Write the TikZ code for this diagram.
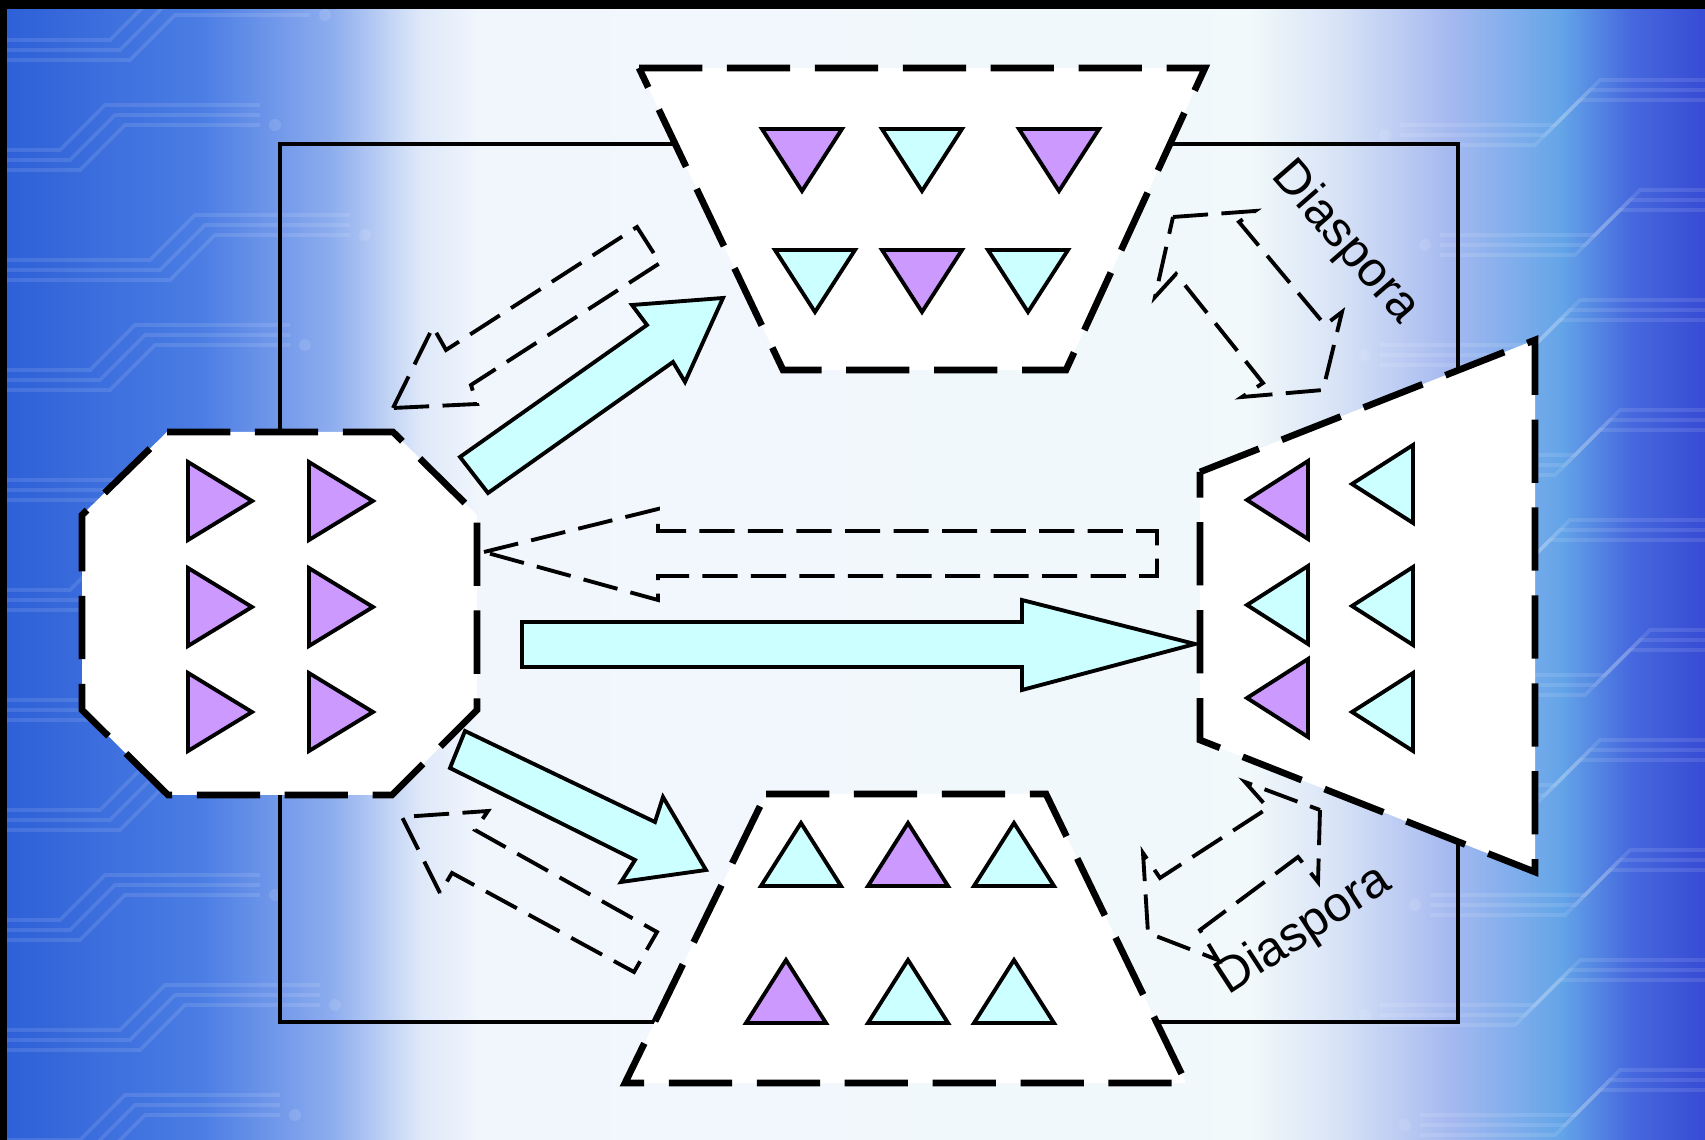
\documentclass[tikz,border=0pt]{standalone}
\usepackage{fontspec}
\newfontfamily\diafont{Liberation Sans}
\definecolor{lilac}{RGB}{204,153,255}
\definecolor{icecyan}{RGB}{204,255,255}
\pgfdeclarehorizontalshading{circuitback}{100bp}{rgb(0bp)=(0.176,0.373,0.843); rgb(25bp)=(0.176,0.373,0.843);
 rgb(30.87bp)=(0.294,0.490,0.894); rgb(34.68bp)=(0.549,0.675,0.933); rgb(37.32bp)=(0.871,0.910,0.976);
 rgb(39.08bp)=(0.945,0.965,0.990); rgb(61.66bp)=(0.945,0.975,0.982); rgb(64.30bp)=(0.843,0.886,0.965);
 rgb(67.52bp)=(0.647,0.725,0.941); rgb(70.75bp)=(0.392,0.647,0.910); rgb(72.80bp)=(0.275,0.412,0.871);
 rgb(75bp)=(0.216,0.294,0.831); rgb(100bp)=(0.216,0.294,0.831)}
\tikzset{
  realm/.style={fill=white,draw=black,line width=1.9pt,dash pattern=on 18pt off 7pt},
  flow/.style={fill=icecyan,draw=black,line width=1.1pt},
  backflow/.style={draw=black,line width=1.1pt,dash pattern=on 10pt off 3.8pt},
  tri/.style={draw=black,line width=1.1pt},
  trace/.style={draw=white,opacity=0.11,line width=1.1pt},
  dialabel/.style={font={\diafont\fontsize{14}{16}\selectfont},inner sep=0pt}
}
\def\topcup{(639,68) -- (1205,68) -- (1066,370) -- (783,370) -- cycle}
\def\lowcup{(766,794) -- (1046,794) -- (1186,1083) -- (625,1083) -- cycle}
\def\octo{(167,432) -- (393,432) -- (477,515) -- (477,710) -- (392,795) -- (168,795) -- (82,710) -- (82,515) -- cycle}
\def\horn{(1200,472) -- (1535,340) -- (1535,872) -- (1200,740) -- cycle}
\newcommand{\tridown}[3]{\filldraw[tri,fill=#3] ({#1-40},#2) -- ({#1+40},#2) -- (#1,{#2+62}) -- cycle;}
\newcommand{\triup}[3]{\filldraw[tri,fill=#3] (#1,#2) -- ({#1+40},{#2+63}) -- ({#1-40},{#2+63}) -- cycle;}
\newcommand{\triright}[3]{\filldraw[tri,fill=#3] (#1,{#2-39}) -- ({#1+64},#2) -- (#1,{#2+39}) -- cycle;}
\newcommand{\trileft}[3]{\filldraw[tri,fill=#3] (#1,#2) -- ({#1+61},{#2-39}) -- ({#1+61},{#2+39}) -- cycle;}
\begin{document}
\begin{tikzpicture}[x=0.01cm,y=-0.01cm]
	\useasboundingbox (0,0) rectangle (1705,1140);
	\shade[shading=circuitback] (0,0) rectangle (1705,1140);
	
	%circuit traces on both sides
	\scope
	\clip (0,0) rectangle (390,1140);
	\foreach \ty/\bx in {40/110,150/60,260/150,370/90,480/130,590/70,700/140,810/100,920/60,1030/120,1140/80}{
		\foreach \k in {0,10,20}{
			\draw[trace] (0,\ty+\k) -- (\bx+\k,\ty+\k) -- (\bx+\k+45,\ty+\k-45) -- (\bx+200,\ty+\k-45);
		}
		\fill[white,opacity=0.11] (\bx+215,\ty-25) circle (6);
	}
	\endscope
	\scope
	\clip (1340,0) rectangle (1705,1140);
	\foreach \ty/\bx in {80/1600,190/1640,300/1580,410/1620,520/1570,630/1650,740/1600,850/1630,960/1580,1070/1620}{
		\foreach \k in {0,10,20}{
			\draw[trace] (1705,\ty+\k) -- (\bx-\k,\ty+\k) -- (\bx-\k-45,\ty+\k+45) -- (\bx-200,\ty+\k+45);
		}
		\fill[white,opacity=0.11] (\bx-215,\ty+55) circle (6);
	}
	\endscope
	\fill[black] (0,0) rectangle (1705,9);
	\fill[black] (0,0) rectangle (7,1140);
	
	\draw[line width=1.1pt] (280,144) rectangle (1458,1022);
	
	%drawing the four groups
	\filldraw[realm] \topcup;
	\filldraw[realm] \lowcup;
	\filldraw[realm] \octo;
	\filldraw[realm] \horn;
	
	\foreach \cx/\cy/\cc in {802/129/lilac,922/129/icecyan,1059/129/lilac,815/250/icecyan,922/250/lilac,1028/250/icecyan}{
		\tridown{\cx}{\cy}{\cc}
	}
	\foreach \cx/\cy/\cc in {801/823/icecyan,908/823/lilac,1014/823/icecyan,786/960/lilac,908/960/icecyan,1014/960/icecyan}{
		\triup{\cx}{\cy}{\cc}
	}
	\foreach \cx/\cy in {188/501,309/501,188/607,309/607,188/712,309/712}{
		\triright{\cx}{\cy}{lilac}
	}
	\foreach \cx/\cy/\cc in {1247/500/lilac,1352/484/icecyan,1247/605/icecyan,1352/606/icecyan,1247/698/lilac,1352/712/icecyan}{
		\trileft{\cx}{\cy}{\cc}
	}
	
	%solid arrows out of the octagon
	\filldraw[flow] (522,622) -- (1022,622) -- (1022,600) -- (1195,644) -- (1022,690) -- (1022,667) -- (522,667) -- cycle;
	\filldraw[flow] (460,457) -- (647,325) -- (632,305) -- (723,298) -- (685,382) -- (673,362) -- (488,493) -- cycle;
	\filldraw[flow] (465,731) -- (655,822) -- (663,797) -- (706,870) -- (621,882) -- (635,860) -- (450,768) -- cycle;
	
	%dashed arrows back
	\draw[backflow] (484,552) -- (658,509) -- (658,531) -- (1157,531) -- (1157,576) -- (658,576) -- (658,600) -- cycle;
	\draw[backflow] (393,408) -- (433,327) -- (446,350) -- (637,227) -- (660,263) -- (471,385) -- (477,404) -- cycle;
	\draw[backflow] (440,893) -- (402,817) -- (488,811) -- (475,830) -- (657,932) -- (634,972) -- (452,873) -- cycle;
	\draw[backflow] (1173,217) -- (1255,211) -- (1239,222) -- (1325,325) -- (1342,312) -- (1323,390) -- (1242,397) -- (1263,383) -- (1176,274) -- (1155,297) -- cycle;
	\draw[backflow] (1320,810) -- (1318,882) -- (1298,857) -- (1200,930) -- (1218,960) -- (1148,933) -- (1143,853) -- (1160,878) -- (1268,808) -- (1245,782) -- cycle;
	
	\node[dialabel,rotate=-49] (diaup) at (1345,243) {Diaspora};
	\node[dialabel,rotate=33] (dialow) at (1304,931) {Diaspora};
\end{tikzpicture}
\end{document}
